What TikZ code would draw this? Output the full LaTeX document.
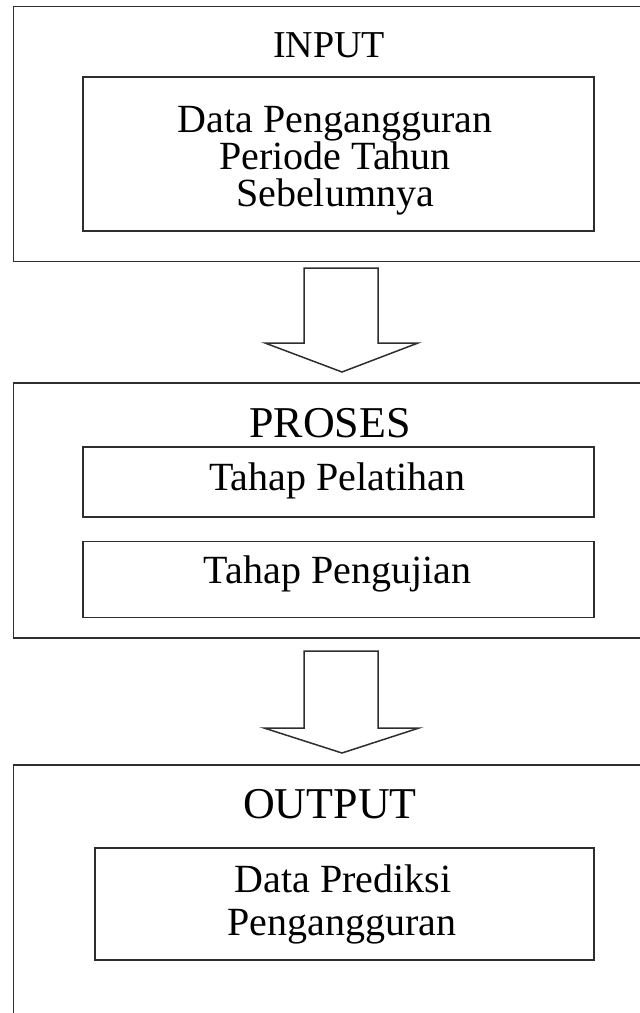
\documentclass[tikz,border=0pt]{standalone}
\usepackage{fontspec}
\setmainfont{Liberation Serif}
\begin{document}
\begin{tikzpicture}[x=1pt,y=-1pt,
  frame/.style={draw=black!82,line width=1.7pt,fill=white,inner sep=0pt,anchor=north west},
  blockarrow/.style={draw=black!82,line width=1.5pt,fill=white,line join=miter},
  title/.style={anchor=base,inner sep=0pt,font=\fontsize{44}{44}\selectfont},
  body/.style={anchor=base,inner sep=0pt,font=\fontsize{40}{40}\selectfont}]
\path[use as bounding box] (0,0) rectangle (640,1013);
\clip (0,0) rectangle (640,1013);
% INPUT
\node[frame,minimum width=700pt,minimum height=255pt] (inbox) at (12.5,5.5) {};
\node[title,font=\fontsize{38}{38}\selectfont] (intitle) at (329,57) {INPUT};
\node[frame,minimum width=511pt,minimum height=154pt] (indata) at (82,76) {};
\node[body] (inl1) at (335,132) {Data Pengangguran};
\node[body] (inl2) at (335,169) {Periode Tahun};
\node[body] (inl3) at (335,206) {Sebelumnya};
% arrow 1
\coordinate (a1) at (341,268);
\draw[blockarrow] (a1) ++(-37,0) -- ++(74,0) -- ++(0,75) -- ++(40,0) -- ++(-76,29) -- ++(-77,-29) -- ++(39,0) -- cycle;
% PROSES
\node[frame,minimum width=700pt,minimum height=255pt] (prbox) at (12.5,382) {};
\node[title] (prtitle) at (330,437) {PROSES};
\node[frame,minimum width=511pt,minimum height=70pt] (train) at (82,446) {};
\node[body] (trainl) at (337,490) {Tahap Pelatihan};
\node[frame,minimum width=511pt,minimum height=76pt] (test) at (82,540.5) {};
\node[body] (testl) at (337.5,583) {Tahap Pengujian};
% arrow 2
\coordinate (a2) at (341,651);
\draw[blockarrow] (a2) ++(-37,0) -- ++(74,0) -- ++(0,77) -- ++(41,0) -- ++(-77,25) -- ++(-78,-25) -- ++(40,0) -- cycle;
% OUTPUT
\node[frame,minimum width=700pt,minimum height=300pt] (outbox) at (12.5,764) {};
\node[title] (outtitle) at (330,818) {OUTPUT};
\node[frame,minimum width=499pt,minimum height=112pt] (outdata) at (94,847) {};
\node[body] (outl1) at (343,892) {Data Prediksi};
\node[body] (outl2) at (342,935) {Pengangguran};
\end{tikzpicture}
\end{document}
